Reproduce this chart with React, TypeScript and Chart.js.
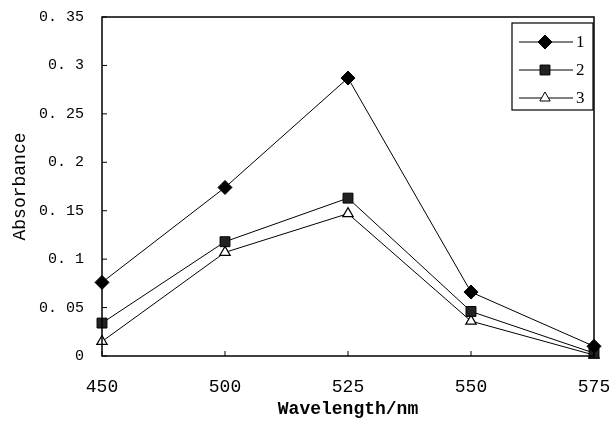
import React, { useEffect, useRef } from 'react';
import { Chart, registerables } from 'chart.js';
import { drawPoint } from 'chart.js/helpers';

Chart.register(...registerables);

const wavelengths = ['450', '500', '525', '550', '575'];
const series1 = [0.076, 0.174, 0.287, 0.066, 0.01];
const series2 = [0.034, 0.118, 0.163, 0.046, 0.003];
const series3 = [0.015, 0.107, 0.147, 0.036, 0.001];
const seriesNames = ['1', '2', '3'];
const yTickLabels = ['0', '0. 05', '0. 1', '0. 15', '0. 2', '0. 25', '0. 3', '0. 35'];

const FONT = "'Liberation Mono', 'DejaVu Sans Mono', monospace";

const framePlugin = {
  id: 'frame',
  afterDatasetsDraw(chart: any) {
    const { ctx, chartArea } = chart;
    const { left, right, top, bottom } = chartArea;
    ctx.save();
    ctx.strokeStyle = '#000';
    ctx.lineWidth = 1.5;
    ctx.strokeRect(left, top, right - left, bottom - top);
    // inward ticks
    ctx.lineWidth = 1;
    const ys = chart.scales.y;
    ys.ticks.forEach((t: any) => {
      const py = ys.getPixelForValue(t.value);
      ctx.beginPath();
      ctx.moveTo(left, py);
      ctx.lineTo(left + 5, py);
      ctx.stroke();
    });
    const xs = chart.scales.x;
    for (let i = 0; i < wavelengths.length; i++) {
      const px = xs.getPixelForValue(i);
      ctx.beginPath();
      ctx.moveTo(px, bottom);
      ctx.lineTo(px, bottom - 5);
      ctx.stroke();
    }
    // legend box
    const bw = 81, bh = 87;
    const bx = right - 1 - bw;
    const by = top + 6;
    ctx.fillStyle = '#fff';
    ctx.fillRect(bx, by, bw, bh);
    ctx.lineWidth = 1.2;
    ctx.strokeRect(bx, by, bw, bh);
    chart.data.datasets.forEach((ds: any, i: number) => {
      const cy = by + 19 + i * 28;
      ctx.lineWidth = 1;
      ctx.strokeStyle = '#000';
      ctx.beginPath();
      ctx.moveTo(bx + 7, cy);
      ctx.lineTo(bx + 61, cy);
      ctx.stroke();
      ctx.fillStyle = ds.pointBackgroundColor;
      ctx.strokeStyle = '#000';
      drawPoint(ctx, { pointStyle: ds.pointStyle, radius: ds.pointRadius, borderWidth: 1, rotation: 0 }, bx + 33, cy);
      ctx.fillStyle = '#000';
      ctx.font = "17px 'Liberation Serif', serif";
      ctx.textAlign = 'left';
      ctx.textBaseline = 'middle';
      ctx.fillText(ds.label, bx + 64, cy + 1);
    });
    ctx.restore();
  },
};

export default function App() {
  const ref = useRef<HTMLCanvasElement | null>(null);
  useEffect(() => {
    if (!ref.current) return;
    const chart = new Chart(ref.current, {
      type: 'line',
      data: {
        labels: wavelengths,
        datasets: [
          {
            label: seriesNames[0],
            data: series1,
            borderColor: '#000',
            borderWidth: 1,
            pointStyle: 'rectRot',
            pointRadius: 7,
            pointBackgroundColor: '#000',
            pointBorderColor: '#000',
            clip: false as any,
          },
          {
            label: seriesNames[1],
            data: series2,
            borderColor: '#000',
            borderWidth: 1,
            pointStyle: 'rect',
            pointRadius: 7,
            pointBackgroundColor: '#222',
            pointBorderColor: '#000',
            clip: false as any,
          },
          {
            label: seriesNames[2],
            data: series3,
            borderColor: '#000',
            borderWidth: 1,
            pointStyle: 'triangle',
            pointRadius: 6,
            pointBackgroundColor: '#fff',
            pointBorderColor: '#000',
            pointBorderWidth: 1.2,
            clip: false as any,
          },
        ],
      },
      options: {
        animation: false,
        responsive: true,
        maintainAspectRatio: false,
        layout: { padding: { top: 17, right: 16, left: 0, bottom: 0 } },
        plugins: { legend: { display: false }, tooltip: { enabled: false } },
        scales: {
          x: {
            type: 'category',
            offset: false,
            grid: { display: false, drawTicks: false },
            border: { display: false },
            ticks: {
              color: '#000',
              padding: 20,
              maxRotation: 0,
              font: { family: FONT, size: 18 },
            },
            title: {
              display: true,
              text: 'Wavelength/nm',
              color: '#000',
              font: { family: FONT, size: 18, weight: 'bold' },
              padding: { top: 0, bottom: 8 },
            },
            afterFit: (s: any) => {
              s.height = 72;
              s.paddingLeft = 0;
              s.paddingRight = 0;
            },
          },
          y: {
            min: 0,
            max: 0.35,
            grid: { display: false, drawTicks: false },
            border: { display: false },
            ticks: {
              stepSize: 0.05,
              color: '#000',
              padding: 18,
              font: { family: FONT, size: 15 },
              callback: (_v: any, i: number) => yTickLabels[i],
            },
            title: {
              display: true,
              text: 'Absorbance',
              color: '#000',
              font: { family: FONT, size: 18 },
              padding: { top: 9, bottom: 0 },
            },
            afterFit: (s: any) => {
              s.width = 102;
              s.paddingTop = 0;
              s.paddingBottom = 0;
            },
          },
        },
      },
      plugins: [framePlugin],
    });
    return () => chart.destroy();
  }, []);
  return (
    <div style={{ position: 'absolute', left: 0, top: 0, width: 610, height: 428, background: '#fff' }}>
      <canvas ref={ref} />
    </div>
  );
}
